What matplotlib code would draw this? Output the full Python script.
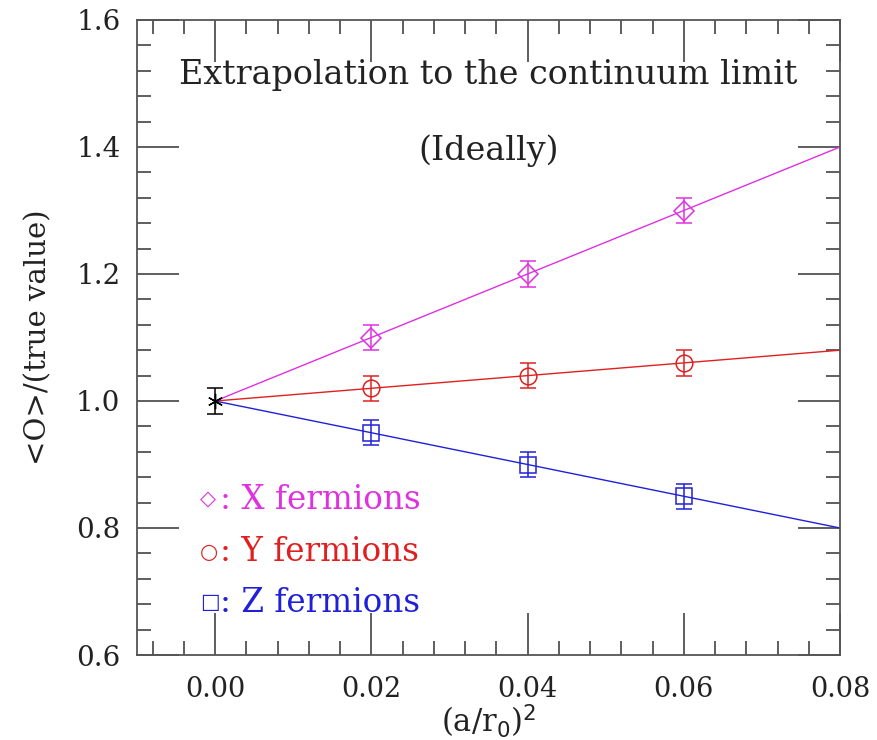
import numpy as np
import matplotlib
matplotlib.use('Agg')
import matplotlib.pyplot as plt
from matplotlib.ticker import MultipleLocator

plt.rcParams['font.family'] = ['DejaVu Serif', 'DejaVu Sans']

# data
a2 = [0.02, 0.04, 0.06]
x_vals = [1.10, 1.20, 1.30]
y_vals = [1.02, 1.04, 1.06]
z_vals = [0.95, 0.90, 0.85]
err = [0.02, 0.02, 0.02]
cont_x, cont_y, cont_err = 0.0, 1.0, 0.02
line_ends = [1.40, 1.08, 0.80]   # fitted values at (a/r0)^2 = 0.08
names = ['X fermions', 'Y fermions', 'Z fermions']
markers = ['D', 'o', 's']
msizes = [10, 12, 11]
colors = ['#e030e0', '#e02020', '#2020d8']

fig = plt.figure(figsize=(8.77, 7.4), dpi=100)
ax = fig.add_axes([137/877, 1-655/740, 703/877, 635/740])

for vals, end, m, ms, c in zip([x_vals, y_vals, z_vals], line_ends, markers, msizes, colors):
    ax.plot([cont_x, 0.08], [cont_y, end], color=c, lw=1)
    ax.errorbar(a2, vals, yerr=err, fmt=m, mfc='none', mec=c, ecolor=c,
                ms=ms, mew=1.1, capsize=6, elinewidth=1.1, capthick=1.1)

ax.errorbar([cont_x], [cont_y], yerr=[cont_err], fmt='none', ecolor='black',
            capsize=6, elinewidth=1.1, capthick=1.1)
ax.plot([cont_x], [cont_y], marker=(6, 2, 0), color='black', ms=11, mew=1)

ax.text(0.035, 1.513, 'Extrapolation to the continuum limit', ha='center', va='center',
        fontsize=24, color='#222222')
ax.text(0.035, 1.395, '(Ideally)', ha='center', va='center', fontsize=24, color='#222222')

leg_x = -0.0019
leg_y = [0.844, 0.762, 0.682]
sym = ['\u25c7', '\u25cb', '\u25a1']
for s, n, c, yy in zip(sym, names, colors, leg_y):
    ax.text(leg_x, yy, s, color=c, va='center', ha='left', fontsize=15)
    ax.annotate(': ' + n, xy=(leg_x, yy), xytext=(14, 0), textcoords='offset points',
                color=c, va='center', ha='left', fontsize=23.5)

ax.set_xlim(-0.01, 0.08)
ax.set_ylim(0.6, 1.6)
ax.xaxis.set_major_locator(MultipleLocator(0.02))
ax.xaxis.set_minor_locator(MultipleLocator(0.004))
ax.yaxis.set_major_locator(MultipleLocator(0.2))
ax.yaxis.set_minor_locator(MultipleLocator(0.04))
ax.xaxis.set_major_formatter(matplotlib.ticker.FormatStrFormatter('%.2f'))
ax.yaxis.set_major_formatter(matplotlib.ticker.FormatStrFormatter('%.1f'))
ax.tick_params(which='both', direction='in', top=True, right=True, color='#333333')
ax.tick_params(which='major', length=30, width=1.1, labelcolor='#222222')
ax.tick_params(which='minor', length=10, width=1.1)
ax.tick_params(axis='x', which='major', labelsize=19.5, pad=15)
ax.tick_params(axis='y', which='major', labelsize=20, pad=12)
for sp in ax.spines.values():
    sp.set_color('#555555')
    sp.set_linewidth(1.3)

ax.set_xlabel(r'(a/r$_0$)$^2$', fontsize=22, labelpad=0, color='#222222')
ax.set_ylabel('<O>/(true value)', fontsize=21, labelpad=17, color='#222222')

fig.savefig('out.png', dpi=100)
